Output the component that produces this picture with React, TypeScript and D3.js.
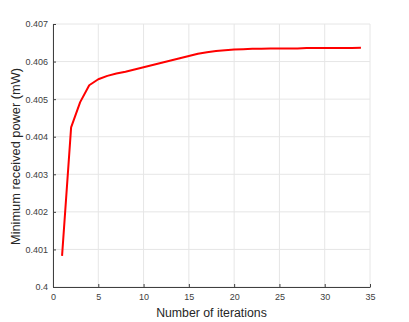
import React, { useEffect, useRef } from 'react';
import * as d3 from 'd3';

// iterations vs minimum received power (mW)
const iterations = [1, 2, 3, 4, 5, 6, 7, 8, 9, 10, 11, 12, 13, 14, 15, 16, 17, 18, 19, 20,
  21, 22, 23, 24, 25, 26, 27, 28, 29, 30, 31, 32, 33, 34];
const minPower = [0.40083, 0.40425, 0.40492, 0.40537, 0.40553, 0.40562, 0.40568, 0.40573, 0.40579, 0.40585,
  0.40591, 0.40597, 0.40603, 0.40609, 0.40615, 0.40621, 0.40625, 0.40628, 0.4063, 0.40632,
  0.40633, 0.40634, 0.40634, 0.40635, 0.40635, 0.40635, 0.40635, 0.40636, 0.40636, 0.40636,
  0.40636, 0.40636, 0.40636, 0.40637];

const xTicks = [0, 5, 10, 15, 20, 25, 30, 35];
const yTicks = [0.4, 0.401, 0.402, 0.403, 0.404, 0.405, 0.406, 0.407];

const W = 409;
const H = 322;

function App() {
  const svgRef = useRef<SVGSVGElement>(null);

  useEffect(() => {
    const svg = d3.select(svgRef.current);
    svg.selectAll('*').remove();

    const margin = { top: 24, right: 39, bottom: 35, left: 53 };
    const width = W - margin.left - margin.right;
    const height = H - margin.top - margin.bottom;
    const font = 'Liberation Sans, Arial, Helvetica, sans-serif';

    const x = d3.scaleLinear().domain([0, 35]).range([0, width]);
    const y = d3.scaleLinear().domain([0.4, 0.407]).range([height, 0]);

    const g = svg.append('g').attr('transform', `translate(${margin.left},${margin.top})`);

    // grid
    g.selectAll('.gx')
      .data(xTicks)
      .enter()
      .append('line')
      .attr('x1', d => x(d)).attr('x2', d => x(d))
      .attr('y1', 0).attr('y2', height)
      .attr('stroke', '#e6e6e6').attr('stroke-width', 1);
    g.selectAll('.gy')
      .data(yTicks)
      .enter()
      .append('line')
      .attr('x1', 0).attr('x2', width)
      .attr('y1', d => y(d)).attr('y2', d => y(d))
      .attr('stroke', '#e6e6e6').attr('stroke-width', 1);

    // curve
    const line = d3.line<number>()
      .x((d, i) => x(iterations[i]))
      .y(d => y(d));
    g.append('path')
      .datum(minPower)
      .attr('d', line)
      .attr('fill', 'none')
      .attr('stroke', '#ff0000')
      .attr('stroke-width', 2)
      .attr('stroke-linejoin', 'round');

    // axes, ticks pointing inward like matlab
    const xAxis = g.append('g')
      .attr('transform', `translate(0,${height})`)
      .call(d3.axisBottom(x).tickValues(xTicks).tickSizeInner(-3).tickSizeOuter(0).tickPadding(7));
    const yAxis = g.append('g')
      .call(d3.axisLeft(y).tickValues(yTicks).tickFormat(d => `${+d}`).tickSizeInner(-3).tickSizeOuter(0).tickPadding(5));

    [xAxis, yAxis].forEach(a => {
      a.select('.domain').attr('stroke', '#404040').attr('stroke-width', 1);
      a.selectAll('.tick line').attr('stroke', '#404040');
      a.selectAll('text')
        .attr('font-family', font)
        .attr('font-size', '9px')
        .attr('fill', '#404040');
    });

    // axis labels
    svg.append('text')
      .attr('x', margin.left + width / 2)
      .attr('y', H - 5)
      .attr('text-anchor', 'middle')
      .attr('font-family', font)
      .attr('font-size', '12.3px')
      .attr('fill', '#262626')
      .text('Number of iterations');

    svg.append('text')
      .attr('transform', `translate(20,${margin.top + height / 2 + 1}) rotate(-90)`)
      .attr('text-anchor', 'middle')
      .attr('font-family', font)
      .attr('font-size', '12.8px')
      .attr('fill', '#262626')
      .text('Minimum received power (mW)');
  }, []);

  return (
    <div style={{ position: 'absolute', left: 0, top: 0, width: W, height: H, background: '#fff' }}>
      <svg ref={svgRef} width={W} height={H}></svg>
    </div>
  );
}

export default App;
